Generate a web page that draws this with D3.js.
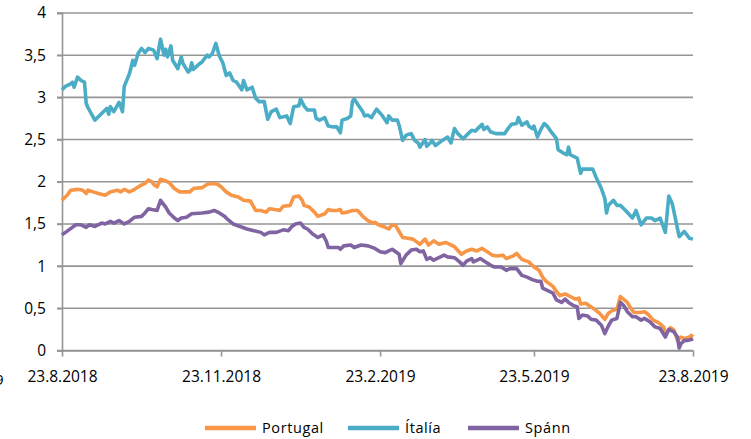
<!DOCTYPE html>
<html>
<head>
<meta charset="utf-8">
<script src="https://cdn.jsdelivr.net/npm/d3@7"></script>
<style>
    body { margin: 0; background: #fff; }
    svg text { font-family: "Open Sans", "Noto Sans", sans-serif; fill: #000; }
</style>
</head>
<body>
<div class="chartContainer"></div>
<script>
// days counted from 23.8.2018
const startDate = new Date(2018, 7, 23);
const endDate = new Date(2019, 7, 23);
const tickDates = ["23.8.2018", "23.11.2018", "23.2.2019", "23.5.2019", "23.8.2019"];
const yTicks = [0, 0.5, 1, 1.5, 2, 2.5, 3, 3.5, 4];
const seriesNames = ["Portugal", "Ítalía", "Spánn"];
const seriesColors = ["#F79646", "#4BACC6", "#8064A2"];

const italyDays = [0, 2, 5, 6, 7, 9, 11, 13, 14, 15, 19, 21, 25, 26, 27, 28, 30, 33, 34, 35, 36, 39, 41, 42, 44, 46, 48, 50, 53, 55, 57, 59, 60, 61, 63, 64, 67, 69, 70, 73, 74, 75, 76, 79, 81, 84, 85, 87, 89, 91, 93, 95, 97, 99, 101, 104, 105, 107, 110, 112, 114, 117, 119, 121, 124, 126, 130, 132, 134, 137, 138, 140, 142, 146, 147, 149, 152, 154, 157, 159, 161, 162, 165, 167, 168, 169, 172, 174, 175, 177, 179, 181, 182, 185, 188, 189, 191, 194, 195, 197, 199, 200, 202, 204, 206, 207, 210, 211, 213, 214, 216, 220, 223, 225, 227, 229, 232, 235, 237, 239, 243, 244, 246, 248, 251, 256, 258, 260, 263, 264, 266, 269, 270, 272, 273, 275, 277, 279, 281, 283, 286, 287, 290, 292, 293, 294, 298, 300, 301, 307, 309, 312, 314, 315, 316, 319, 321, 323, 326, 330, 332, 335, 338, 341, 343, 346, 349, 351, 353, 357, 360, 363, 365];
const italyValues = [3.09, 3.13, 3.16, 3.18, 3.12, 3.24, 3.20, 3.18, 2.93, 2.88, 2.73, 2.77, 2.85, 2.87, 2.80, 2.89, 2.83, 2.94, 2.89, 2.83, 3.13, 3.28, 3.44, 3.38, 3.52, 3.58, 3.53, 3.58, 3.56, 3.46, 3.69, 3.50, 3.57, 3.48, 3.61, 3.44, 3.34, 3.48, 3.40, 3.30, 3.32, 3.41, 3.33, 3.39, 3.42, 3.50, 3.48, 3.52, 3.64, 3.49, 3.41, 3.26, 3.29, 3.20, 3.18, 3.09, 3.20, 3.09, 3.12, 2.99, 2.95, 2.95, 2.74, 2.83, 2.86, 2.76, 2.78, 2.69, 2.89, 2.90, 2.98, 2.90, 2.85, 2.85, 2.75, 2.73, 2.76, 2.66, 2.65, 2.65, 2.58, 2.73, 2.75, 2.78, 2.95, 2.98, 2.89, 2.83, 2.78, 2.79, 2.76, 2.83, 2.86, 2.79, 2.70, 2.78, 2.73, 2.73, 2.67, 2.49, 2.55, 2.56, 2.57, 2.49, 2.46, 2.41, 2.50, 2.42, 2.46, 2.49, 2.43, 2.49, 2.53, 2.46, 2.63, 2.57, 2.51, 2.57, 2.61, 2.60, 2.68, 2.62, 2.65, 2.59, 2.57, 2.57, 2.63, 2.68, 2.69, 2.76, 2.67, 2.71, 2.66, 2.63, 2.66, 2.53, 2.62, 2.69, 2.65, 2.59, 2.51, 2.38, 2.34, 2.32, 2.41, 2.32, 2.28, 2.10, 2.15, 2.15, 2.05, 1.92, 1.80, 1.63, 1.72, 1.78, 1.72, 1.72, 1.66, 1.57, 1.66, 1.49, 1.57, 1.57, 1.54, 1.57, 1.40, 1.83, 1.74, 1.35, 1.41, 1.33, 1.32];

const portugalDays = [0, 3, 5, 9, 12, 14, 15, 18, 21, 25, 28, 32, 34, 36, 39, 42, 45, 48, 50, 52, 53, 55, 57, 60, 62, 65, 68, 74, 76, 81, 84, 87, 90, 92, 95, 98, 102, 105, 109, 112, 115, 118, 120, 123, 126, 128, 132, 134, 137, 139, 140, 143, 146, 148, 152, 154, 156, 159, 161, 162, 165, 168, 171, 174, 177, 180, 181, 183, 187, 189, 191, 193, 195, 197, 200, 203, 205, 207, 210, 212, 215, 218, 222, 224, 227, 231, 234, 237, 240, 243, 246, 249, 252, 255, 257, 261, 263, 266, 270, 273, 276, 278, 280, 284, 286, 288, 291, 294, 297, 299, 300, 303, 305, 308, 311, 314, 316, 318, 321, 323, 324, 327, 329, 331, 334, 337, 339, 342, 345, 348, 349, 352, 354, 356, 358, 360, 363, 364, 365];
const portugalValues = [1.78, 1.84, 1.90, 1.91, 1.90, 1.86, 1.90, 1.88, 1.86, 1.84, 1.88, 1.90, 1.88, 1.91, 1.88, 1.91, 1.95, 1.98, 2.02, 2.00, 1.97, 1.94, 2.03, 2.01, 1.99, 1.92, 1.88, 1.88, 1.92, 1.93, 1.97, 1.98, 1.97, 1.94, 1.88, 1.84, 1.82, 1.78, 1.77, 1.66, 1.66, 1.64, 1.68, 1.67, 1.66, 1.71, 1.72, 1.82, 1.83, 1.78, 1.72, 1.70, 1.64, 1.59, 1.62, 1.67, 1.66, 1.66, 1.67, 1.63, 1.64, 1.66, 1.66, 1.59, 1.54, 1.51, 1.52, 1.49, 1.46, 1.44, 1.49, 1.48, 1.41, 1.34, 1.33, 1.32, 1.29, 1.26, 1.32, 1.25, 1.30, 1.26, 1.28, 1.26, 1.23, 1.14, 1.18, 1.20, 1.18, 1.21, 1.17, 1.13, 1.12, 1.13, 1.09, 1.12, 1.15, 1.08, 1.05, 0.99, 0.95, 0.87, 0.82, 0.76, 0.70, 0.65, 0.67, 0.64, 0.61, 0.62, 0.55, 0.56, 0.53, 0.49, 0.44, 0.37, 0.44, 0.47, 0.49, 0.64, 0.62, 0.57, 0.50, 0.45, 0.45, 0.46, 0.43, 0.36, 0.33, 0.28, 0.20, 0.27, 0.24, 0.12, 0.16, 0.14, 0.16, 0.18, 0.16];

const spainDays = [0, 4, 8, 11, 14, 16, 19, 23, 25, 28, 30, 33, 36, 39, 42, 46, 48, 50, 52, 55, 57, 60, 62, 65, 67, 69, 72, 75, 81, 85, 88, 91, 94, 96, 99, 103, 107, 111, 115, 117, 120, 124, 128, 131, 133, 135, 138, 140, 142, 145, 148, 151, 153, 154, 157, 160, 161, 163, 167, 169, 173, 177, 181, 184, 187, 189, 191, 193, 195, 196, 199, 202, 205, 207, 209, 211, 213, 215, 218, 221, 223, 227, 230, 232, 234, 237, 238, 242, 245, 248, 250, 254, 257, 259, 263, 266, 269, 272, 275, 277, 278, 281, 284, 286, 289, 291, 293, 296, 298, 299, 301, 304, 306, 309, 312, 314, 316, 318, 321, 323, 325, 327, 330, 332, 335, 337, 340, 343, 346, 349, 351, 354, 356, 357, 358, 360, 362, 364, 365];
const spainValues = [1.37, 1.43, 1.49, 1.49, 1.46, 1.49, 1.47, 1.51, 1.50, 1.53, 1.51, 1.54, 1.50, 1.53, 1.58, 1.59, 1.63, 1.68, 1.67, 1.66, 1.78, 1.70, 1.63, 1.57, 1.54, 1.57, 1.58, 1.62, 1.63, 1.64, 1.66, 1.63, 1.59, 1.55, 1.50, 1.47, 1.44, 1.42, 1.40, 1.37, 1.40, 1.40, 1.43, 1.42, 1.47, 1.50, 1.51, 1.46, 1.44, 1.38, 1.34, 1.37, 1.29, 1.22, 1.22, 1.22, 1.20, 1.24, 1.25, 1.22, 1.25, 1.24, 1.21, 1.17, 1.16, 1.18, 1.20, 1.17, 1.14, 1.03, 1.13, 1.19, 1.20, 1.17, 1.18, 1.08, 1.10, 1.07, 1.10, 1.13, 1.11, 1.10, 1.05, 1.01, 1.06, 1.09, 1.05, 1.09, 1.05, 1.01, 0.99, 0.99, 0.95, 0.97, 0.97, 0.89, 0.87, 0.84, 0.82, 0.82, 0.74, 0.71, 0.68, 0.60, 0.57, 0.61, 0.57, 0.53, 0.52, 0.38, 0.42, 0.41, 0.37, 0.36, 0.30, 0.20, 0.29, 0.36, 0.38, 0.57, 0.53, 0.46, 0.40, 0.40, 0.36, 0.38, 0.34, 0.28, 0.26, 0.16, 0.25, 0.22, 0.16, 0.03, 0.08, 0.12, 0.12, 0.13, 0.14];

function toSeries(days, values) {
    return days.map((d, i) => ({ date: d3.timeDay.offset(startDate, d), value: values[i] }));
}

function main() {
    const width = 751, height = 439;
    const left = 62, right = 693, top = 13, bottom = 350.5;

    const series = [
        toSeries(portugalDays, portugalValues),
        toSeries(italyDays, italyValues),
        toSeries(spainDays, spainValues)
    ];

    const parseTick = d3.timeParse("%d.%m.%Y");
    const formatTick = d3.timeFormat("%-d.%-m.%Y");

    const svg = d3.select(".chartContainer").append("svg")
        .attr("width", width)
        .attr("height", height);

    const x = d3.scaleTime()
        .domain([startDate, endDate])
        .range([left, right]);

    const y = d3.scaleLinear()
        .domain([0, 4])
        .range([bottom, top]);

    // Gridlines
    svg.append("g")
        .selectAll("line")
        .data(yTicks)
        .join("line")
        .attr("x1", left - 5)
        .attr("x2", right)
        .attr("y1", d => y(d))
        .attr("y2", d => y(d))
        .attr("stroke", "#959595")
        .attr("stroke-width", 1.6);

    // Y axis
    const yAxis = svg.append("g")
        .attr("transform", `translate(${left},0)`)
        .call(d3.axisLeft(y).tickValues(yTicks).tickSize(5)
            .tickFormat(d => String(d).replace(".", ",")));
    yAxis.select(".domain").attr("stroke", "#959595").attr("stroke-width", 1.6);
    yAxis.selectAll(".tick line").attr("stroke", "#959595").attr("stroke-width", 1.6);
    yAxis.selectAll("text")
        .attr("x", -16)
        .style("font-size", "15.5px")
        .style("font-family", "'Open Sans', sans-serif");

    // X axis
    const xAxis = svg.append("g")
        .attr("transform", `translate(0,${bottom})`)
        .call(d3.axisBottom(x).tickValues(tickDates.map(parseTick)).tickSize(6)
            .tickSizeOuter(0).tickFormat(formatTick));
    xAxis.select(".domain").attr("stroke", "#959595").attr("stroke-width", 1.6);
    xAxis.selectAll(".tick line").attr("stroke", "#959595").attr("stroke-width", 1.6);
    xAxis.selectAll("text")
        .attr("y", 20)
        .style("font-size", "15.5px")
        .style("font-family", "'Open Sans', sans-serif");

    // clipped glyph at the far left, as in the original export
    svg.append("text")
        .attr("x", -5)
        .attr("y", 385)
        .style("font-size", "15px")
        .text("9");

    // Lines
    const line = d3.line()
        .x(d => x(d.date))
        .y(d => y(d.value));

    svg.append("g")
        .selectAll("path")
        .data(series)
        .join("path")
        .attr("d", line)
        .attr("fill", "none")
        .attr("stroke", (d, i) => seriesColors[i])
        .attr("stroke-width", 3.6)
        .attr("stroke-linejoin", "round");

    // Legend
    const legendX = [205, 348, 468];
    const legend = svg.append("g")
        .selectAll("g")
        .data(seriesNames)
        .join("g")
        .attr("transform", (d, i) => `translate(${legendX[i]},428)`);

    legend.append("line")
        .attr("x1", 0)
        .attr("x2", 51)
        .attr("stroke", (d, i) => seriesColors[i])
        .attr("stroke-width", 4.5);

    legend.append("text")
        .attr("x", 57)
        .attr("dy", "0.35em")
        .style("font-size", "14.5px")
        .style("letter-spacing", "0.6px")
        .text(d => d);
}

main()
</script>
</body>
</html>
